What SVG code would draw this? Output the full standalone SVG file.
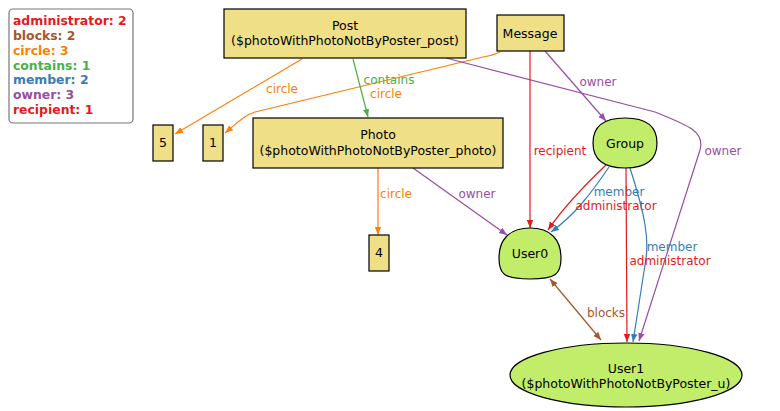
<svg xmlns="http://www.w3.org/2000/svg" width="780" height="411" viewBox="0 0 780 411">
<defs>
<style>
text{font-family:"DejaVu Sans",sans-serif;font-size:12.5px;}
.c{text-anchor:middle;}
.lg{font-weight:bold;font-size:12.4px;}
.el{font-size:12px;}
.box{fill:#efdf86;stroke:#000;stroke-width:1.2;}
.grn{fill:#c2ed6a;stroke:#000;stroke-width:1.2;}
.e{fill:none;stroke-width:1.2;}
.red{stroke:#e41a1c;} .blu{stroke:#377eb8;} .gre{stroke:#4daf4a;} .pur{stroke:#984ea3;} .ora{stroke:#ff7f00;} .bro{stroke:#a65628;}
.tred{fill:#e41a1c;} .tblu{fill:#377eb8;} .tgre{fill:#4daf4a;} .tpur{fill:#984ea3;} .tora{fill:#ff7f00;} .tbro{fill:#a65628;}
</style>
<marker id="aR" viewBox="0 0 10 10" refX="10" refY="5" markerWidth="8" markerHeight="8" markerUnits="userSpaceOnUse" orient="auto"><path d="M0,1 L10,5 L0,9 Z" fill="#e41a1c"/></marker>
<marker id="aB" viewBox="0 0 10 10" refX="10" refY="5" markerWidth="8" markerHeight="8" markerUnits="userSpaceOnUse" orient="auto"><path d="M0,1 L10,5 L0,9 Z" fill="#377eb8"/></marker>
<marker id="aG" viewBox="0 0 10 10" refX="10" refY="5" markerWidth="8" markerHeight="8" markerUnits="userSpaceOnUse" orient="auto"><path d="M0,1 L10,5 L0,9 Z" fill="#4daf4a"/></marker>
<marker id="aP" viewBox="0 0 10 10" refX="10" refY="5" markerWidth="8" markerHeight="8" markerUnits="userSpaceOnUse" orient="auto"><path d="M0,1 L10,5 L0,9 Z" fill="#984ea3"/></marker>
<marker id="aO" viewBox="0 0 10 10" refX="10" refY="5" markerWidth="8" markerHeight="8" markerUnits="userSpaceOnUse" orient="auto"><path d="M0,1 L10,5 L0,9 Z" fill="#ff7f00"/></marker>
<marker id="aW" viewBox="0 0 10 10" refX="10" refY="5" markerWidth="8" markerHeight="8" markerUnits="userSpaceOnUse" orient="auto-start-reverse"><path d="M0,1 L10,5 L0,9 Z" fill="#a65628"/></marker>
</defs>
<rect width="780" height="411" fill="#fff"/>

<g id="legend">
<rect x="9" y="9" width="124" height="114" rx="4" fill="#fff" stroke="#777" stroke-width="1.2"/>
<text class="lg tred" x="13" y="25">administrator: 2</text>
<text class="lg tbro" x="13" y="40">blocks: 2</text>
<text class="lg tora" x="13" y="55">circle: 3</text>
<text class="lg tgre" x="13" y="70">contains: 1</text>
<text class="lg tblu" x="13" y="84">member: 2</text>
<text class="lg tpur" x="13" y="99">owner: 3</text>
<text class="lg tred" x="13" y="114">recipient: 1</text>
</g>

<g id="connectors">
<path class="e ora" d="M302,59 L175,134" marker-end="url(#aO)"/>
<text class="c el tora" x="282" y="93">circle</text>
<path class="e ora" d="M500,52 C494,55 489,56 483,57 L255,112 C245,115 238,122 225,133" marker-end="url(#aO)"/>
<text class="c el tora" x="386" y="98">circle</text>
<path class="e gre" d="M353,59 L368,117" marker-end="url(#aG)"/>
<text class="c el tgre" x="389" y="84">contains</text>
<path class="e pur" d="M446,58 L655,112 C690,126 705,132 700,150 L639,341" marker-end="url(#aP)"/>
<text class="c el tpur" x="723" y="155">owner</text>
<path class="e pur" d="M545,51 L606,121" marker-end="url(#aP)"/>
<text class="c el tpur" x="598" y="86">owner</text>
<path class="e red" d="M530,51 L530,228" marker-end="url(#aR)"/>
<text class="c el tred" x="560" y="155">recipient</text>
<path class="e ora" d="M378,168 L378,235" marker-end="url(#aO)"/>
<text class="c el tora" x="396" y="198">circle</text>
<path class="e pur" d="M413,168 L507,235" marker-end="url(#aP)"/>
<text class="c el tpur" x="477" y="198">owner</text>
<path class="e red" d="M606,165 C585,185 565,205 548,230" marker-end="url(#aR)"/>
<path class="e blu" d="M609,167 C592,192 575,215 551,232" marker-end="url(#aB)"/>
<text class="c el tblu" x="619" y="196">member</text>
<text class="c el tred" x="616" y="210">administrator</text>
<path class="e red" d="M626,168 L627,342" marker-end="url(#aR)"/>
<path class="e blu" d="M630,168 C645,215 650,240 645,265 L633,342" marker-end="url(#aB)"/>
<text class="c el tblu" x="672" y="251">member</text>
<text class="c el tred" x="670" y="265">administrator</text>
<path class="e bro" d="M550,279 L601,340" marker-start="url(#aW)" marker-end="url(#aW)"/>
<text class="c el tbro" x="606" y="317">blocks</text>
</g>

<g id="post"><rect class="box" x="224" y="9" width="242" height="49"/><text class="c" x="345" y="30">Post</text><text class="c" x="345" y="45">($photoWithPhotoNotByPoster_post)</text></g>
<g id="message"><rect class="box" x="497" y="15" width="67" height="36"/><text class="c" x="530" y="38">Message</text></g>
<g id="photo"><rect class="box" x="253" y="118" width="250" height="50"/><text class="c" x="378" y="139">Photo</text><text class="c" x="378" y="155">($photoWithPhotoNotByPoster_photo)</text></g>
<g id="n5"><rect class="box" x="153" y="125" width="20" height="36"/><text class="c" x="163" y="147">5</text></g>
<g id="n1"><rect class="box" x="203" y="125" width="20" height="36"/><text class="c" x="213" y="147">1</text></g>
<g id="n4"><rect class="box" x="369" y="235" width="20" height="36"/><text class="c" x="379" y="257">4</text></g>
<g id="group"><path class="grn" d="M625,118 C648,118 657,128 657,143 C657,160 645,168 625,168 C605,168 593,160 593,143 C593,128 602,118 625,118 Z"/><text class="c" x="625" y="148">Group</text></g>
<g id="user0"><path class="grn" d="M530,228 C551,228 561,240 561,258 C561,274 556,279 530,279 C504,279 499,274 499,258 C499,240 509,228 530,228 Z"/><text class="c" x="530" y="258">User0</text></g>
<g id="user1"><ellipse class="grn" cx="626" cy="375" rx="116" ry="32"/><text class="c" x="626" y="373">User1</text><text class="c" x="626" y="388">($photoWithPhotoNotByPoster_u)</text></g>
</svg>
